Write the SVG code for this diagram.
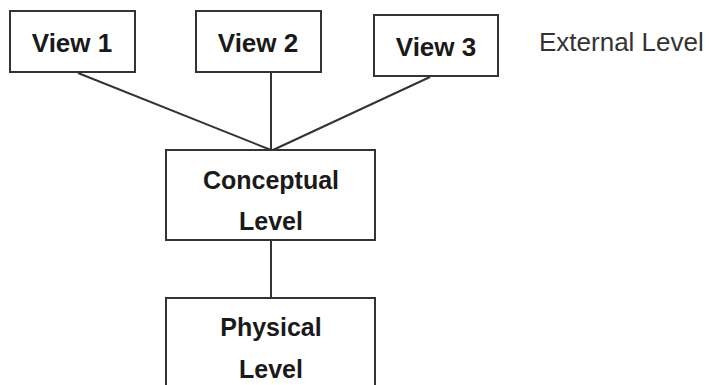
<svg xmlns="http://www.w3.org/2000/svg" width="710" height="385" viewBox="0 0 710 385">
<style>
.box{fill:#fff;stroke:#333;stroke-width:2}
.lbl{font-family:"Liberation Sans",Arial,sans-serif;font-weight:bold;font-size:25px;fill:#1a1a1a;text-anchor:middle}
.ext{font-family:"Liberation Sans",Arial,sans-serif;font-size:26px;fill:#333}
.conn line{stroke:#333;stroke-width:2}
</style>
<rect width="710" height="385" fill="#fff"/>
<g class="conn">
<line x1="78" y1="73" x2="271" y2="150"/>
<line x1="271" y1="73" x2="271" y2="150"/>
<line x1="430" y1="77" x2="273" y2="150"/>
<line x1="271" y1="240" x2="271" y2="298"/>
</g>
<g id="view1"><rect class="box" x="10" y="11" width="125" height="61"/><text class="lbl" x="72" y="52" style="font-size:26px">View 1</text></g>
<g id="view2"><rect class="box" x="196" y="11" width="125" height="61"/><text class="lbl" x="258" y="52" style="font-size:26px">View 2</text></g>
<g id="view3"><rect class="box" x="374" y="15" width="124" height="61"/><text class="lbl" x="436" y="56" style="font-size:26px">View 3</text></g>
<g id="external"><text class="ext" x="539" y="51">External Level</text></g>
<g id="conceptual"><rect class="box" x="166" y="150" width="209" height="90"/><text class="lbl" x="271" y="189">Conceptual</text><text class="lbl" x="271" y="230">Level</text></g>
<g id="physical"><rect class="box" x="166" y="298" width="209" height="100"/><text class="lbl" x="271" y="336">Physical</text><text class="lbl" x="271" y="378">Level</text></g>
</svg>
